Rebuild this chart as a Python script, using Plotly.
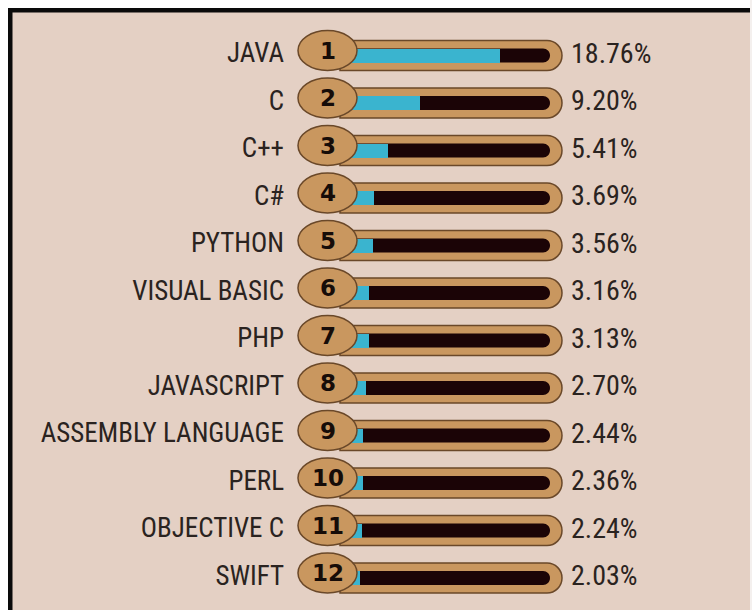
import plotly.graph_objects as go

# Share of programming-language popularity (percent)
languages = ["JAVA", "C", "C++", "C#", "PYTHON", "VISUAL BASIC", "PHP",
             "JAVASCRIPT", "ASSEMBLY LANGUAGE", "PERL", "OBJECTIVE C", "SWIFT"]
shares = [18.76, 9.20, 5.41, 3.69, 3.56, 3.16, 3.13, 2.70, 2.44, 2.36, 2.24, 2.03]
ranks = [str(i + 1) for i in range(len(languages))]
share_labels = [f"{v:.2f}%" for v in shares]

W, H = 752, 610
BG = "#e4d0c4"
TAN = "#c9975f"
OUTLINE = "#6a4829"
DARK = "#1b0406"
CYAN = "#3ab4cf"
TEXT = "#2a2320"

# axis geometry: x in percent units, one row per unit in y
X0_PX, PX_PER_PCT = 343.0, 8.37
ROW0_PX, ROW_PX = 55.5, 47.5
x_range = [-X0_PX / PX_PER_PCT, (W - X0_PX) / PX_PER_PCT]
y_range = [(H - ROW0_PX) / ROW_PX, -ROW0_PX / ROW_PX]

rows = list(range(len(languages)))
condensed = "Roboto Condensed, Roboto, DejaVu Sans Condensed, sans-serif"

fig = go.Figure()

# cyan progress fill
fig.add_trace(go.Bar(
    x=shares, y=rows, base=0, orientation="h",
    width=14 / ROW_PX, marker=dict(color=CYAN, line=dict(width=0)),
    hoverinfo="skip", showlegend=False,
))

# language names
fig.add_trace(go.Scatter(
    x=[(284 - X0_PX) / PX_PER_PCT] * len(rows), y=rows, mode="text",
    text=languages, textposition="middle left",
    textfont=dict(family=condensed, size=27, color=TEXT),
    hoverinfo="skip", showlegend=False,
))

# percentage values
fig.add_trace(go.Scatter(
    x=[(571 - X0_PX) / PX_PER_PCT] * len(rows), y=rows, mode="text",
    text=share_labels, textposition="middle right",
    textfont=dict(family=condensed, size=28, color=TEXT),
    hoverinfo="skip", showlegend=False,
))


def pill(x0, x1, h):
    r = h
    k = 0.5523 * r
    return (f"M {x0},{-h} L {x1 - r},{-h} "
            f"C {x1 - r + k},{-h} {x1},{-k} {x1},0 "
            f"C {x1},{k} {x1 - r + k},{h} {x1 - r},{h} "
            f"L {x0},{h} Z")


shapes = []
for i in rows:
    # tan track
    shapes.append(dict(type="path", layer="below", xref="x", yref="y",
                       xsizemode="pixel", ysizemode="pixel", xanchor=0, yanchor=i,
                       path=pill(-3, 219, 15), fillcolor=TAN,
                       line=dict(color=OUTLINE, width=1.5)))
    # dark groove
    shapes.append(dict(type="path", layer="below", xref="x", yref="y",
                       xsizemode="pixel", ysizemode="pixel", xanchor=0, yanchor=i,
                       path=pill(0, 207, 7), fillcolor=DARK,
                       line=dict(width=0)))
    # rank badge
    shapes.append(dict(type="circle", layer="above", xref="x", yref="y",
                       xsizemode="pixel", ysizemode="pixel", xanchor=0, yanchor=i,
                       x0=-45, x1=14, y0=-15, y1=25, fillcolor=TAN,
                       line=dict(color=OUTLINE, width=1.5)))


# frame
def px_rect(x0, y0, x1, y1, color):
    return dict(type="rect", xref="paper", yref="paper", layer="above",
                x0=x0 / W, x1=x1 / W, y0=1 - y1 / H, y1=1 - y0 / H,
                fillcolor=color, line=dict(width=0))


shapes += [
    px_rect(0, 0, W, 8, "#ffffff"),
    px_rect(0, 0, 8, H, "#ffffff"),
    px_rect(750, 0, W, H, "#f4f0ee"),
    px_rect(8, 8, 750, 12.5, "#0a0a0a"),
    px_rect(8, 8, 12.5, H, "#0a0a0a"),
]

annotations = []
for i, r in zip(rows, ranks):
    annotations.append(dict(
        x=(327.5 - X0_PX) / PX_PER_PCT, y=i, yshift=5, xref="x", yref="y",
        text=f"<b>{r}</b>", showarrow=False,
        font=dict(family="DejaVu Sans, sans-serif", size=23,
                  color="#160c08", weight=700),
    ))

fig.update_layout(
    width=W, height=H,
    margin=dict(l=0, r=0, t=0, b=0),
    paper_bgcolor=BG, plot_bgcolor=BG,
    xaxis=dict(range=x_range, visible=False, fixedrange=True),
    yaxis=dict(range=y_range, visible=False, fixedrange=True),
    shapes=shapes, annotations=annotations,
    bargap=0, showlegend=False,
)

fig.write_html("out.html")
